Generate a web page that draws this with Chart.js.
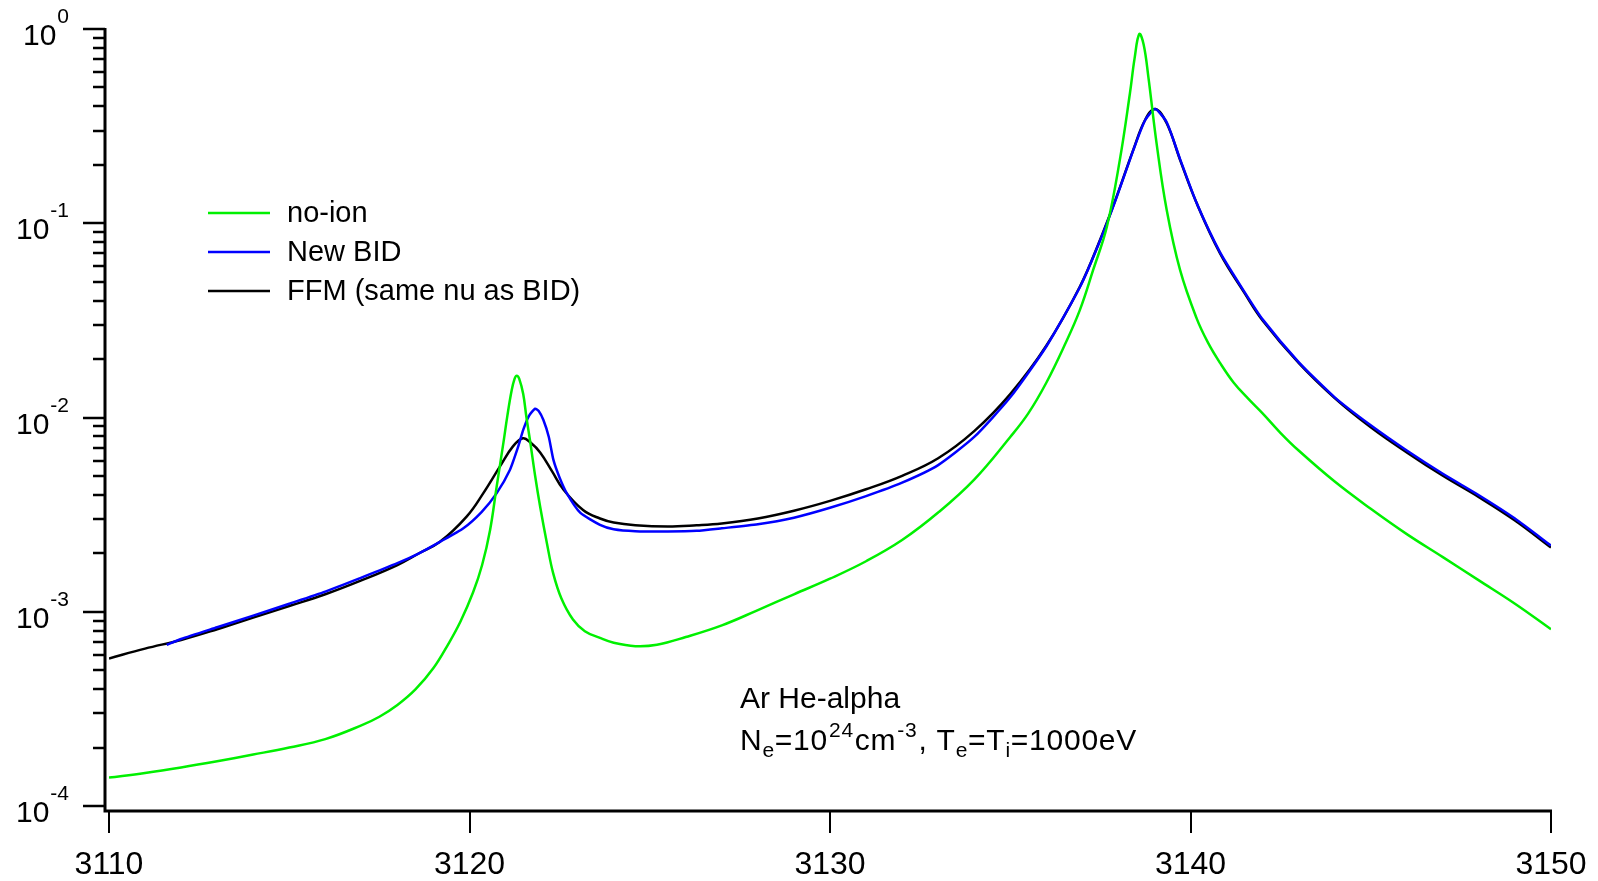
<!DOCTYPE html>
<html>
<head>
<meta charset="utf-8">
<script src="https://cdn.jsdelivr.net/npm/chart.js@4/dist/chart.umd.min.js"></script>
<style>
html,body{margin:0;padding:0;background:#fff;}
canvas{display:block;}
</style>
</head>
<body>
<canvas id="c" width="1598" height="881"></canvas>
<script>
// ---- data (wavelength, intensity) ----
const noIonX = [3110,3111,3112,3113,3114,3115,3116,3117,3117.5,3118,3118.5,3119,3119.4,3119.75,3120.1,3120.35,3120.57,3120.75,3120.94,3121.05,3121.17,3121.25,3121.31,3121.38,3121.49,3121.58,3121.68,3121.82,3121.96,3122.15,3122.32,3122.55,3122.87,3123.2,3123.62,3124,3124.6,3125.2,3126,3127,3128,3129,3130,3131,3132,3133,3134,3135,3135.5,3136,3136.5,3136.93,3137.3,3137.68,3138.04,3138.32,3138.45,3138.58,3138.7,3138.83,3139.06,3139.34,3139.71,3140.17,3140.5,3140.82,3141.2,3141.6,3142,3142.5,3143,3144,3145,3146,3147,3148,3149,3150];
const noIonY = [1.40e-4,1.48e-4,1.58e-4,1.70e-4,1.84e-4,2.00e-4,2.21e-4,2.60e-4,2.88e-4,3.31e-4,3.98e-4,5.13e-4,6.76e-4,8.91e-4,1.26e-3,1.74e-3,2.63e-3,4.37e-3,7.40e-3,1.02e-2,1.38e-2,1.58e-2,1.64e-2,1.58e-2,1.32e-2,1.00e-2,7.59e-3,5.01e-3,3.47e-3,2.24e-3,1.58e-3,1.17e-3,9.12e-4,7.94e-4,7.33e-4,6.92e-4,6.65e-4,6.76e-4,7.41e-4,8.51e-4,1.02e-3,1.23e-3,1.48e-3,1.82e-3,2.34e-3,3.24e-3,4.79e-3,7.94e-3,1.05e-2,1.51e-2,2.34e-2,3.57e-2,5.75e-2,9.59e-2,0.212,0.467,0.708,0.942,0.832,0.569,0.257,0.117,5.75e-2,3.24e-2,2.40e-2,1.91e-2,1.51e-2,1.25e-2,1.05e-2,8.32e-3,6.76e-3,4.68e-3,3.39e-3,2.51e-3,1.91e-3,1.45e-3,1.10e-3,8.13e-4];

const bidX = [3111.6,3112,3113,3114,3115,3116,3117,3118,3118.6,3119.18,3119.83,3120.34,3120.75,3121.12,3121.35,3121.49,3121.65,3121.82,3121.92,3122.05,3122.2,3122.33,3122.5,3122.7,3123.07,3123.62,3124,3124.6,3125.5,3126.3,3127,3128,3129,3130,3131,3132,3133,3134,3135,3136,3136.93,3137.49,3137.95,3138.41,3138.74,3139.02,3139.34,3139.71,3140.17,3140.82,3141.5,3142,3143,3144,3145,3146,3147,3148,3149,3150];
const bidY = [6.76e-4,7.24e-4,8.32e-4,9.55e-4,1.10e-3,1.27e-3,1.50e-3,1.78e-3,2.00e-3,2.29e-3,2.69e-3,3.27e-3,4.07e-3,5.37e-3,7.08e-3,8.63e-3,1.02e-2,1.11e-2,1.08e-2,9.70e-3,7.94e-3,6.03e-3,4.90e-3,4.07e-3,3.24e-3,2.80e-3,2.66e-3,2.60e-3,2.59e-3,2.61e-3,2.69e-3,2.82e-3,3.05e-3,3.43e-3,3.94e-3,4.62e-3,5.69e-3,7.94e-3,1.27e-2,2.32e-2,4.68e-2,8.13e-2,0.136,0.237,0.339,0.387,0.331,0.214,0.127,7.08e-2,4.42e-2,3.20e-2,1.93e-2,1.27e-2,9.12e-3,6.76e-3,5.13e-3,3.98e-3,3.02e-3,2.19e-3];

const ffmX = [3110,3111,3112,3113,3114,3115,3116,3117,3118,3118.6,3119.18,3119.92,3120.38,3120.85,3121.2,3121.48,3121.7,3121.96,3122.3,3122.6,3123.15,3123.62,3124,3124.6,3125.5,3126.3,3127,3128,3129,3130,3131,3132,3133,3134,3135,3136,3136.93,3137.49,3137.95,3138.41,3138.74,3139.02,3139.34,3139.71,3140.17,3140.82,3141.5,3142,3143,3144,3145,3146,3147,3148,3149,3150];
const ffmY = [5.75e-4,6.46e-4,7.16e-4,8.13e-4,9.33e-4,1.07e-3,1.23e-3,1.45e-3,1.74e-3,2.00e-3,2.29e-3,3.09e-3,4.07e-3,5.62e-3,7.08e-3,7.82e-3,7.41e-3,6.61e-3,5.25e-3,4.27e-3,3.34e-3,3.02e-3,2.88e-3,2.79e-3,2.75e-3,2.79e-3,2.85e-3,3.02e-3,3.31e-3,3.72e-3,4.27e-3,5.01e-3,6.17e-3,8.51e-3,1.32e-2,2.34e-2,4.71e-2,8.20e-2,0.137,0.238,0.340,0.387,0.327,0.212,0.127,7.00e-2,4.37e-2,3.16e-2,1.91e-2,1.26e-2,8.91e-3,6.61e-3,5.01e-3,3.89e-3,2.95e-3,2.14e-3];

const seriesLabels = ['no-ion','New BID','FFM (same nu as BID)'];
const seriesColors = ['#00f000','#0000ff','#000000'];
const xTicks = [3110,3120,3130,3140,3150];
const yDecades = [0,-1,-2,-3,-4];

function pts(xs, ys){ return xs.map((x,i)=>({x:x, y:ys[i]})); }

const FONT = '"Liberation Sans", Arial, sans-serif';

const axesPlugin = {
  id: 'igorAxes',
  afterDraw(chart){
    const ctx = chart.ctx;
    const xs = chart.scales.x, ys = chart.scales.y;
    const ca = chart.chartArea;
    const axX = ca.left - 4;      // offset y-axis line
    const axY = ca.bottom + 5;    // offset x-axis line
    ctx.save();
    ctx.strokeStyle = '#000';
    ctx.fillStyle = '#000';
    ctx.lineCap = 'butt';
    // axis lines
    ctx.lineWidth = 3;
    ctx.beginPath();
    ctx.moveTo(axX, ys.getPixelForValue(1) - 1);
    ctx.lineTo(axX, axY + 1.5);
    ctx.moveTo(axX - 1.5, axY);
    ctx.lineTo(xs.getPixelForValue(3150) + 1, axY);
    ctx.stroke();
    // y ticks
    ctx.lineWidth = 2.5;
    ctx.beginPath();
    yDecades.forEach(e=>{
      const py = Math.round(ys.getPixelForValue(Math.pow(10,e)));
      ctx.moveTo(axX - 22, py); ctx.lineTo(axX, py);
      if (e > -4) {
        for (let m=2;m<=9;m++){
          const v = m*Math.pow(10,e-1);
          const p = Math.round(ys.getPixelForValue(v));
          ctx.moveTo(axX - 12, p); ctx.lineTo(axX, p);
        }
      }
    });
    ctx.stroke();
    // x ticks
    ctx.lineWidth = 2;
    ctx.beginPath();
    xTicks.forEach(v=>{
      const px = Math.round(xs.getPixelForValue(v));
      ctx.moveTo(px, axY); ctx.lineTo(px, axY + 22);
    });
    ctx.stroke();
    // x tick labels
    ctx.font = '32px ' + FONT;
    ctx.textAlign = 'center';
    ctx.textBaseline = 'alphabetic';
    xTicks.forEach(v=>{
      const px = xs.getPixelForValue(v);
      ctx.fillText(String(v), px, 874);
    });
    // y tick labels: 10^e
    yDecades.forEach(e=>{
      const py = ys.getPixelForValue(Math.pow(10,e));
      const base = '10', exp = String(e);
      ctx.font = '30px ' + FONT;
      const wb = ctx.measureText(base).width;
      ctx.font = '21px ' + FONT;
      const we = ctx.measureText(exp).width;
      const right = 69;
      const x0 = right - we - wb - 1;
      ctx.textAlign = 'left';
      ctx.font = '30px ' + FONT;
      ctx.fillText(base, x0, py + 16);
      ctx.font = '21px ' + FONT;
      ctx.fillText(exp, x0 + wb + 1, py - 6);
    });
    // legend
    const legY = [213, 252, 291];
    chart.data.datasets.forEach((ds,i)=>{
      ctx.strokeStyle = ds.borderColor;
      ctx.lineWidth = 2.5;
      ctx.beginPath();
      ctx.moveTo(208, legY[i]); ctx.lineTo(270, legY[i]);
      ctx.stroke();
      ctx.fillStyle = '#000';
      ctx.font = '29px ' + FONT;
      ctx.textAlign = 'left';
      ctx.textBaseline = 'middle';
      ctx.fillText(ds.label, 287, legY[i] + 1);
    });
    // annotation
    ctx.textBaseline = 'alphabetic';
    ctx.fillStyle = '#000';
    ctx.font = '30px ' + FONT;
    ctx.fillText('Ar He-alpha', 740, 708);
    const parts = [
      ['N',0],['e',-1],['=10',0],['24',1],['cm',0],['-3',1],[', T',0],['e',-1],['=T',0],['i',-1],['=1000eV',0]
    ];
    const by = 750;
    const fontOf = k => (k===0 ? '30px ' : '21px ') + FONT;
    let nat = 0, nch = 0;
    parts.forEach(([t,k])=>{ ctx.font = fontOf(k); nat += ctx.measureText(t).width + (k===1?2:0); nch += t.length; });
    const target = 397;
    const extra = Math.max(0, (target - nat) / nch);
    let cx = 740;
    parts.forEach(([t,k])=>{
      ctx.font = fontOf(k);
      for (const ch of t){
        const w = ctx.measureText(ch).width;
        const yy = k===0 ? by : (k===1 ? by-13 : by+7);
        ctx.fillText(ch, cx + (k===1?1:0), yy);
        cx += w + extra;
      }
      if (k===1) cx += 2;
    });
    ctx.restore();
  }
};

new Chart(document.getElementById('c'), {
  type: 'line',
  data: {
    datasets: [
      {label: seriesLabels[0], data: pts(noIonX, noIonY), borderColor: seriesColors[0], borderWidth: 2.5, pointRadius: 0, tension: 0.4},
      {label: seriesLabels[1], data: pts(bidX, bidY), borderColor: seriesColors[1], borderWidth: 2.5, pointRadius: 0, tension: 0.2},
      {label: seriesLabels[2], data: pts(ffmX, ffmY), borderColor: seriesColors[2], borderWidth: 2.5, pointRadius: 0, tension: 0.4}
    ]
  },
  options: {
    responsive: false,
    animation: false,
    devicePixelRatio: 1,
    layout: {padding: {left: 109, right: 47, top: 29, bottom: 75}},
    scales: {
      x: {type: 'linear', min: 3110, max: 3150, display: false},
      y: {type: 'logarithmic', min: 1e-4, max: 1, display: false}
    },
    plugins: {legend: {display: false}, tooltip: {enabled: false}}
  },
  plugins: [axesPlugin]
});
</script>
</body>
</html>
